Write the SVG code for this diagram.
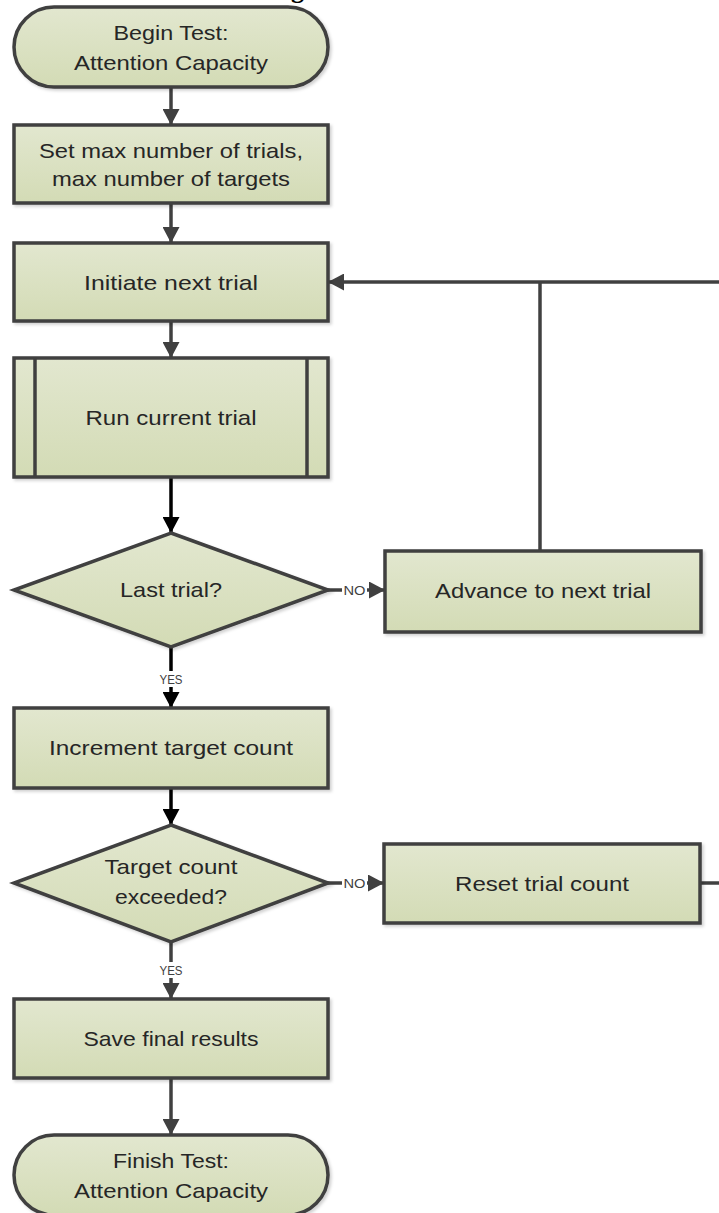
<svg xmlns="http://www.w3.org/2000/svg" width="719" height="1213" viewBox="0 0 719 1213">
<style>
.box{fill:url(#g);stroke:#3f3f3f;stroke-width:3.5;filter:url(#sh)}
.t{font-family:"Liberation Sans",Arial,sans-serif;font-size:21px;fill:#262626;text-anchor:middle}
.lbl{font-family:"Liberation Sans",Arial,sans-serif;font-size:12px;fill:#404040;text-anchor:middle}
.c{fill:none;stroke:#404040;stroke-width:3.5}
.k{fill:none;stroke:#000;stroke-width:3.5}
</style>
<defs>
<linearGradient id="g" x1="0" y1="0" x2="0" y2="1">
<stop offset="0" stop-color="#e2e7cf"/>
<stop offset="1" stop-color="#d3dbb5"/>
</linearGradient>
<filter id="sh" x="-10%" y="-10%" width="125%" height="130%">
<feDropShadow dx="2" dy="2" stdDeviation="1.5" flood-color="#000" flood-opacity="0.18"/>
</filter>
<marker id="a" markerUnits="userSpaceOnUse" markerWidth="17" markerHeight="17" refX="16" refY="8.5" orient="auto">
<path d="M0,0 L16,8.5 L0,17 z" fill="#404040"/>
</marker>
<marker id="ak" markerUnits="userSpaceOnUse" markerWidth="17" markerHeight="17" refX="16" refY="8.5" orient="auto">
<path d="M0,0 L16,8.5 L0,17 z" fill="#000"/>
</marker>
</defs>
<rect width="719" height="1213" fill="#fff"/>
<text x="291" y="-2" style="font-family:'Liberation Serif',serif;font-weight:bold;font-size:26px;fill:#000">g</text>

<g id="connectors">
<line class="c" x1="171" y1="87" x2="171" y2="125" marker-end="url(#a)"/>
<line class="c" x1="171" y1="203" x2="171" y2="243" marker-end="url(#a)"/>
<line class="c" x1="171" y1="321" x2="171" y2="358" marker-end="url(#a)"/>
<line class="k" x1="171" y1="477" x2="171" y2="533" marker-end="url(#ak)"/>
<line class="c" x1="328" y1="590" x2="385" y2="590" marker-end="url(#a)"/>
<rect x="342" y="582" width="25" height="16" fill="#fff"/>
<text class="lbl" x="354.5" y="594.5" textLength="22" lengthAdjust="spacingAndGlyphs">NO</text>
<polyline class="c" points="540,551 540,282"/>
<line class="c" x1="719" y1="282" x2="328" y2="282" marker-end="url(#a)"/>
<line class="k" x1="171" y1="647" x2="171" y2="708" marker-end="url(#ak)"/>
<rect x="158" y="671" width="26" height="16" fill="#fff"/>
<text class="lbl" x="171" y="684" textLength="23" lengthAdjust="spacingAndGlyphs">YES</text>
<line class="k" x1="171" y1="788" x2="171" y2="825" marker-end="url(#ak)"/>
<line class="c" x1="328" y1="883" x2="384" y2="883" marker-end="url(#a)"/>
<rect x="342" y="875" width="25" height="16" fill="#fff"/>
<text class="lbl" x="354.5" y="887.5" textLength="22" lengthAdjust="spacingAndGlyphs">NO</text>
<line class="c" x1="700" y1="883" x2="719" y2="883"/>
<line class="c" x1="171" y1="942" x2="171" y2="999" marker-end="url(#a)"/>
<rect x="158" y="962" width="26" height="16" fill="#fff"/>
<text class="lbl" x="171" y="975" textLength="23" lengthAdjust="spacingAndGlyphs">YES</text>
<line class="c" x1="171" y1="1078" x2="171" y2="1135" marker-end="url(#a)"/>
</g>

<g id="begin">
<rect class="box" x="14" y="7" width="314" height="80" rx="40"/>
<text class="t" x="171" y="40" textLength="115" lengthAdjust="spacingAndGlyphs">Begin Test:</text>
<text class="t" x="171" y="70" textLength="194" lengthAdjust="spacingAndGlyphs">Attention Capacity</text>
</g>
<g id="setmax">
<rect class="box" x="14" y="125" width="314" height="78"/>
<text class="t" x="171" y="158" textLength="264" lengthAdjust="spacingAndGlyphs">Set max number of trials,</text>
<text class="t" x="171" y="186" textLength="238" lengthAdjust="spacingAndGlyphs">max number of targets</text>
</g>
<g id="initiate">
<rect class="box" x="14" y="243" width="314" height="78"/>
<text class="t" x="171" y="290" textLength="174" lengthAdjust="spacingAndGlyphs">Initiate next trial</text>
</g>
<g id="run">
<rect class="box" x="14" y="358" width="314" height="119"/>
<line x1="35" y1="358" x2="35" y2="477" stroke="#3f3f3f" stroke-width="3.5"/>
<line x1="307" y1="358" x2="307" y2="477" stroke="#3f3f3f" stroke-width="3.5"/>
<text class="t" x="171" y="425" textLength="171" lengthAdjust="spacingAndGlyphs">Run current trial</text>
</g>
<g id="last">
<polygon class="box" points="171,533 328,590 171,647 14,590"/>
<text class="t" x="171" y="597" textLength="102" lengthAdjust="spacingAndGlyphs">Last trial?</text>
</g>
<g id="advance">
<rect class="box" x="385" y="551" width="316" height="81"/>
<text class="t" x="543" y="598" textLength="216" lengthAdjust="spacingAndGlyphs">Advance to next trial</text>
</g>
<g id="increment">
<rect class="box" x="14" y="708" width="314" height="80"/>
<text class="t" x="171" y="755" textLength="244" lengthAdjust="spacingAndGlyphs">Increment target count</text>
</g>
<g id="exceeded">
<polygon class="box" points="171,825 328,883 171,942 14,883"/>
<text class="t" x="171" y="874" textLength="133" lengthAdjust="spacingAndGlyphs">Target count</text>
<text class="t" x="171" y="904" textLength="112" lengthAdjust="spacingAndGlyphs">exceeded?</text>
</g>
<g id="reset">
<rect class="box" x="384" y="844" width="316" height="79"/>
<text class="t" x="542" y="891" textLength="174" lengthAdjust="spacingAndGlyphs">Reset trial count</text>
</g>
<g id="save">
<rect class="box" x="14" y="999" width="314" height="79"/>
<text class="t" x="171" y="1046" textLength="175" lengthAdjust="spacingAndGlyphs">Save final results</text>
</g>
<g id="finish">
<rect class="box" x="14" y="1135" width="314" height="80" rx="40"/>
<text class="t" x="171" y="1168" textLength="116" lengthAdjust="spacingAndGlyphs">Finish Test:</text>
<text class="t" x="171" y="1198" textLength="194" lengthAdjust="spacingAndGlyphs">Attention Capacity</text>
</g>
</svg>
